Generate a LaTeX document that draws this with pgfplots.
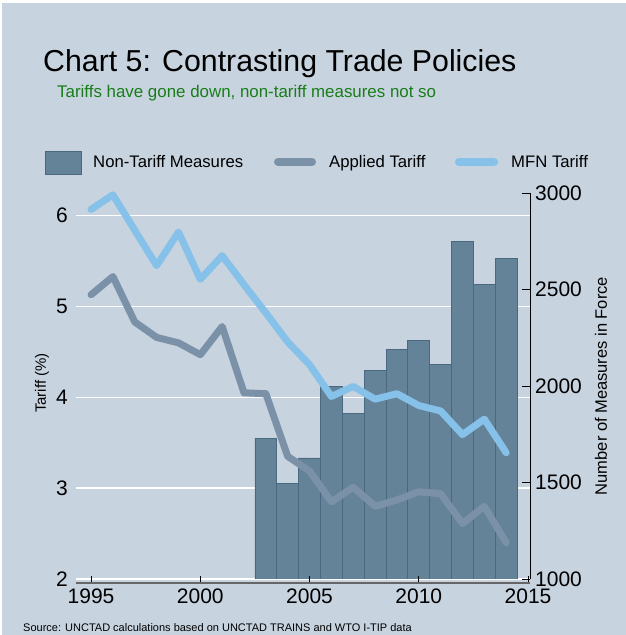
\documentclass[border=0pt]{standalone}
\usepackage{fontspec}
\setmainfont{Liberation Sans}
\usepackage{pgfplots}
\pgfplotsset{compat=1.18}
\definecolor{bg}{RGB}{199,211,223}
\definecolor{barfill}{RGB}{101,131,152}
\definecolor{baredge}{RGB}{74,105,128}
\definecolor{applied}{RGB}{122,145,168}
\definecolor{mfn}{RGB}{133,193,233}
\definecolor{subgreen}{RGB}{25,125,25}
\begin{document}
\begin{tikzpicture}[x=1pt,y=1pt]
\fill[white] (0,0) rectangle (626,635);
\fill[bg] (2,0) rectangle (626,632);
\pgfplotsset{
  base/.style={scale only axis, width=454pt, height=386pt, at={(76pt,56pt)}, anchor=south west,
    xmin=1994.31, xmax=2015.09,
    /pgf/number format/assume math mode=true, /pgf/number format/1000 sep={},
    tick label style={font=\fontsize{21}{21}\selectfont}},
}
% Axis A: gridlines and left tick labels
\begin{axis}[base, ymin=2, ymax=6.25, ytick={2,3,4,5,6}, hide x axis,
  axis y line*=left, y axis line style={draw=none},
  ymajorgrids, major grid style={white, line width=1.5pt},
  major tick length=0pt, yticklabel style={anchor=east, inner sep=0pt}, yticklabel shift=8pt]
\end{axis}
% Axis B: bars on the right axis
\begin{axis}[base, ymin=1000, ymax=3000, ytick={1000,1500,...,3000}, hide x axis,
  axis y line*=right, y axis line style={black, line width=0.8pt},
  tick align=inside, major tick length=8pt, ytick style={black, line width=0.8pt},
  yticklabel style={anchor=west, inner sep=0pt}, yticklabel shift=5pt,
  ylabel={Number of Measures in Force},
  every axis y label/.style={at={(rel axis cs:1,0.5)}, xshift=71pt, anchor=center, rotate=90, font=\fontsize{16.5}{16.5}\selectfont}]
\addplot[ybar, bar width=1, fill=barfill, draw=baredge, line width=0.8pt] coordinates {
(2003,1730) (2004,1495) (2005,1627) (2006,1996) (2007,1857) (2008,2080)
(2009,2188) (2010,2234) (2011,2113) (2012,2750) (2013,2528) (2014,2660)};
\end{axis}
% Axis C: tariff lines and x axis
\begin{axis}[base, ymin=2, ymax=6.25, clip=false,
  axis y line*=left, y axis line style={draw=none}, ytick=\empty,
  ylabel={Tariff (\%)},
  every axis y label/.style={at={(rel axis cs:0,0.5)}, xshift=-34pt, yshift=3pt, anchor=center, rotate=90, font=\fontsize{15}{15}\selectfont},
  axis x line*=bottom, axis x line shift=4pt, x axis line style={draw=black!60, line width=1.5pt},
  xtick={1995,2000,...,2015}, tick align=inside, major tick length=7pt, xtick style={black, line width=0.8pt},
  xticklabel style={anchor=north, inner sep=0pt}, xticklabel shift=6pt]
\addplot[applied, line width=7pt, line join=round, line cap=round] coordinates {
(1995,5.13) (1996,5.33) (1997,4.83) (1998,4.66) (1999,4.60) (2000,4.47) (2001,4.78)
(2002,4.05) (2003,4.04) (2004,3.35) (2005,3.19) (2006,2.85) (2007,3.01) (2008,2.80)
(2009,2.87) (2010,2.96) (2011,2.94) (2012,2.61) (2013,2.80) (2014,2.40)};
\addplot[mfn, line width=7pt, line join=round, line cap=round] coordinates {
(1995,6.07) (1996,6.23) (1997,5.84) (1998,5.45) (1999,5.82) (2000,5.30) (2001,5.56)
(2002,5.24) (2003,4.93) (2004,4.61) (2005,4.36) (2006,4.01) (2007,4.12) (2008,3.98)
(2009,4.04) (2010,3.91) (2011,3.85) (2012,3.59) (2013,3.76) (2014,3.39)};
\end{axis}
% Titles
\node[anchor=base west, inner sep=0, font=\fontsize{30.3}{30.3}\selectfont] at (43,563) {Chart 5: Contrasting Trade Policies};
\node[anchor=base west, inner sep=0, text=subgreen, font=\fontsize{16.9}{16.9}\selectfont] at (57,537) {Tariffs have gone down, non-tariff measures not so};
% Legend
\filldraw[fill=barfill, draw=baredge, line width=0.8pt] (45,461) rectangle (81,484);
\node[anchor=base west, inner sep=0, font=\fontsize{16.7}{16.7}\selectfont] at (93,467) {Non-Tariff Measures};
\draw[applied, line width=8pt, line cap=round] (278,473) -- (312,473);
\node[anchor=base west, inner sep=0, font=\fontsize{16.7}{16.7}\selectfont] at (329,467) {Applied Tariff};
\draw[mfn, line width=8pt, line cap=round] (459,473) -- (494,473);
\node[anchor=base west, inner sep=0, font=\fontsize{16.7}{16.7}\selectfont] at (511,467) {MFN Tariff};
% Source
\node[anchor=base west, inner sep=0, font=\fontsize{11}{11}\selectfont] at (23,4) {Source: UNCTAD calculations based on UNCTAD TRAINS and WTO I-TIP data};
\pgfresetboundingbox
\useasboundingbox (0,0) rectangle (626,635);
\end{tikzpicture}
\end{document}
